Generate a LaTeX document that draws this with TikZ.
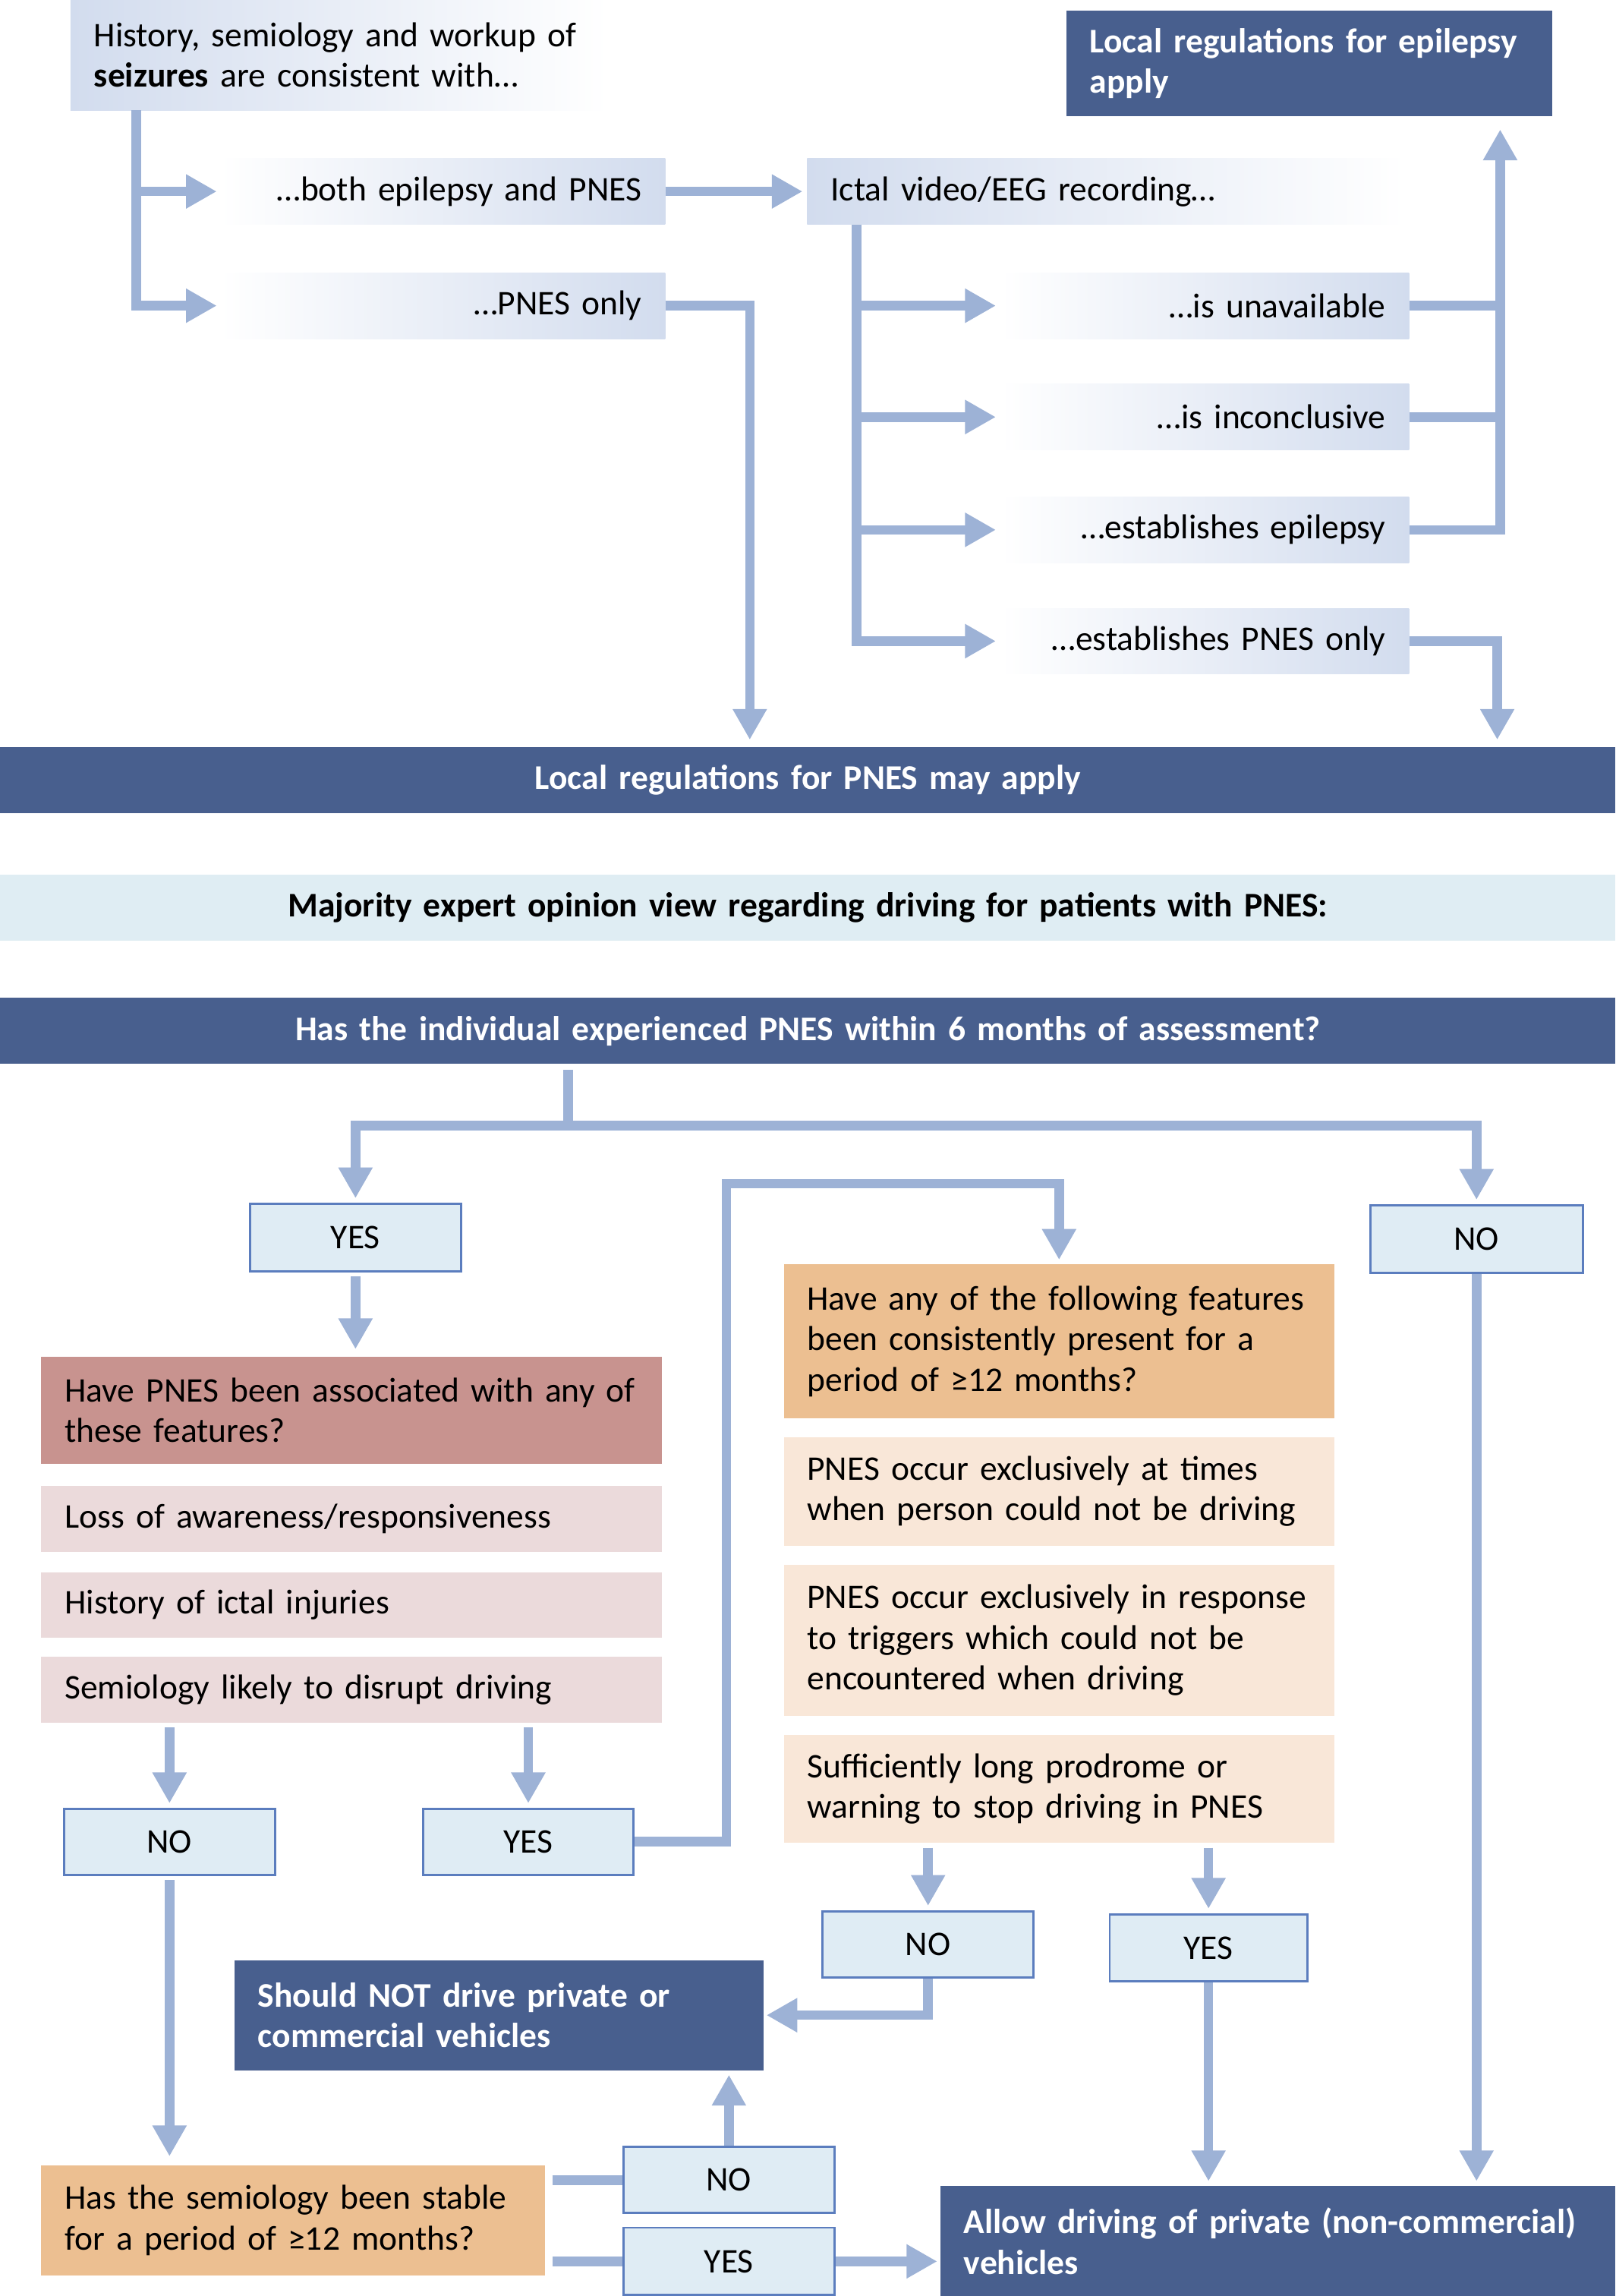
\documentclass[tikz,border=0pt]{standalone}
\usepackage{fontspec}
\setmainfont{Carlito}
\usetikzlibrary{arrows.meta}
\definecolor{navy}{HTML}{485F8E}
\definecolor{gblue}{HTML}{D2DCEE}
\definecolor{arrowblue}{HTML}{9DB2D6}
\definecolor{ansfill}{HTML}{DFECF4}
\definecolor{ansline}{HTML}{5B7DBE}
\definecolor{majfill}{HTML}{DFEDF3}
\definecolor{askred}{HTML}{C8938F}
\definecolor{featpink}{HTML}{EBDADB}
\definecolor{askorange}{HTML}{ECBF91}
\definecolor{featorange}{HTML}{F9E7D8}
\newcommand{\diagfont}{\fontsize{23.6}{27.6}\selectfont}
\tikzset{
  box/.style={anchor=north west, inner xsep=16pt, inner ysep=0pt, align=left, font=\diagfont},
  sized/.style 2 args={minimum width=#1, minimum height=#2, text width=#1-32pt},
  dark/.style={fill=navy, text=white, font=\diagfont\bfseries},
  gradR/.style={left color=gblue, middle color=gblue!92, right color=white},
  gradL/.style={left color=white, middle color=gblue!85, right color=gblue, align=right},
  ans/.style={anchor=north west, draw=ansline, line width=1.5pt, fill=ansfill, inner sep=0pt, font=\diagfont},
  link/.style={draw=arrowblue, line width=6.5pt},
  arr/.style={link, -{Triangle[length=21pt,width=22pt]}, shorten >=3pt},
}
\begin{document}
\begin{tikzpicture}[x=1pt, y=-1pt]
\useasboundingbox[fill=white] (0,0) rectangle (1103,1567.4);

\node[box, gradR, sized={367pt}{75pt}] (hist) at (48,0) {History, semiology and workup of\\\textbf{seizures} are consistent with…};
\node[box, dark, sized={332pt}{72pt}] (epireg) at (728,7) {Local regulations for epilepsy\\apply};
\node[box, gradL, sized={304pt}{45pt}] (both) at (150,108) {…both epilepsy and PNES};
\node[box, gradL, sized={304pt}{45pt}] (pnesonly) at (150,186) {…PNES only};
\node[box, gradR, sized={409pt}{45pt}] (ictal) at (551,108) {Ictal video/EEG recording…};
\node[box, gradL, sized={279pt}{45pt}] (unavail) at (683,186) {…is unavailable};
\node[box, gradL, sized={279pt}{45pt}] (inconcl) at (683,262) {…is inconclusive};
\node[box, gradL, sized={279pt}{45pt}] (estepi) at (683,339) {…establishes epilepsy};
\node[box, gradL, sized={279pt}{45pt}] (estpnes) at (683,415) {…establishes PNES only};
\node[box, dark, sized={1103pt}{45pt}, align=center] (pnesreg) at (0,510) {Local regulations for PNES may apply};
\node[box, fill=majfill, sized={1103pt}{45pt}, align=center, font=\diagfont\bfseries] (majority) at (0,597) {Majority expert opinion view regarding driving for patients with PNES:};
\node[box, dark, sized={1103pt}{45pt}, align=center] (within6) at (0,681) {Has the individual experienced PNES within 6 months of assessment?};

\coordinate (epiup) at ([xshift=-36pt]epireg.south east);
\draw[arr, shorten >=2pt] ([xshift=45pt]hist.south west) |- (both.west);
\draw[arr, shorten >=2pt] ([xshift=45pt]hist.south west) |- (pnesonly.west);
\draw[arr] (both.east) -- (ictal.west);
\draw[arr, shorten >=5pt] (pnesonly.east) -| ([xshift=512pt]pnesreg.north west);
\foreach \sub in {unavail,inconcl,estepi,estpnes}
  \draw[arr] ([xshift=34pt]ictal.south west) |- (\sub.west);
\draw[link] (unavail.east) -- (unavail.east -| epiup);
\draw[link] (inconcl.east) -- (inconcl.east -| epiup);
\draw[arr, shorten >=9pt] (estepi.east) -| (epiup);
\draw[arr, shorten >=5pt] (estpnes.east) -| ([xshift=-81pt]pnesreg.north east);

\node[ans, minimum width=144pt, minimum height=46pt] (yesA) at (170,821) {YES};
\node[ans, minimum width=145pt, minimum height=46pt] (noA) at (935,822) {NO};
\node[box, fill=askred, sized={424pt}{73pt}] (assoc) at (28,926) {Have PNES been associated with any of\\these features?};
\node[box, fill=featpink, sized={424pt}{45pt}] (loss) at (28,1014) {Loss of awareness/responsiveness};
\node[box, fill=featpink, sized={424pt}{45pt}] (injury) at (28,1073) {History of ictal injuries};
\node[box, fill=featpink, sized={424pt}{45pt}] (disrupt) at (28,1131) {Semiology likely to disrupt driving};
\node[ans, minimum width=144pt, minimum height=45pt] (noB) at (43,1234) {NO};
\node[ans, minimum width=144pt, minimum height=45pt] (yesB) at (288,1234) {YES};
\node[box, fill=askorange, sized={376pt}{105pt}] (consist) at (535,863) {Have any of the following features\\been consistently present for a\\period of ≥12 months?};
\node[box, fill=featorange, sized={376pt}{74pt}] (times) at (535,981) {PNES occur exclusively at times\\when person could not be driving};
\node[box, fill=featorange, sized={376pt}{103pt}] (triggers) at (535,1068) {PNES occur exclusively in response\\to triggers which could not be\\encountered when driving};
\node[box, fill=featorange, sized={376pt}{74pt}] (prodrome) at (535,1184) {Sufficiently long prodrome or\\warning to stop driving in PNES};
\node[ans, minimum width=144pt, minimum height=45pt] (noC) at (561,1304) {NO};
\node[ans, minimum width=135pt, minimum height=46pt] (yesC) at (757,1306) {YES};
\node[box, dark, sized={361pt}{75pt}] (nodrive) at (160,1338) {Should NOT drive private or\\commercial vehicles};
\node[box, fill=askorange, sized={344pt}{75pt}] (stable) at (28,1478) {Has the semiology been stable\\for a period of ≥12 months?};
\node[ans, minimum width=144pt, minimum height=45pt] (noD) at (425,1465) {NO};
\node[ans, minimum width=144pt, minimum height=46pt] (yesD) at (425,1520) {YES};
\node[box, dark, sized={461pt}{75.4pt}] (allow) at (642,1492) {Allow driving of private (non-commercial)\\vehicles};

\coordinate (split) at ([xshift=388pt, yshift=-42pt]within6.south west);
\coordinate (loop) at ([xshift=-39pt, yshift=55pt]consist.north west);
\draw[link, shorten <=4pt] ([xshift=388pt]within6.south west) -- (split);
\draw[arr] (split) -| (yesA.north);
\draw[arr] (split) -| (noA.north);
\draw[arr, shorten <=3pt, shorten >=5pt] (yesA.south) -- (yesA.south |- assoc.north);
\draw[arr, shorten <=3pt] (noB.north |- disrupt.south) -- (noB.north);
\draw[arr, shorten <=3pt] (yesB.north |- disrupt.south) -- (yesB.north);
\draw[arr] (yesB.east) -| (loop) -| (consist.north);
\draw[arr, shorten <=3pt] (noC.north |- prodrome.south) -- (noC.north);
\draw[arr, shorten <=3pt] (yesC.north |- prodrome.south) -- (yesC.north);
\draw[arr, shorten >=2pt] (noC.south) |- (nodrive.east);
\draw[arr] (yesC.south) -- (yesC.south |- allow.north);
\draw[arr] (noA.south) -- (noA.south |- allow.north);
\draw[arr, shorten <=3pt, shorten >=6pt] (noB.south) -- (noB.south |- stable.north);
\draw[link, shorten <=5pt] (noD.west -| stable.east) -- (noD.west);
\draw[link, shorten <=5pt] (yesD.west -| stable.east) -- (yesD.west);
\draw[arr] (noD.north) -- (noD.north |- nodrive.south);
\draw[arr, shorten >=2pt] (yesD.east) -- (yesD.east -| allow.west);
\end{tikzpicture}
\end{document}
